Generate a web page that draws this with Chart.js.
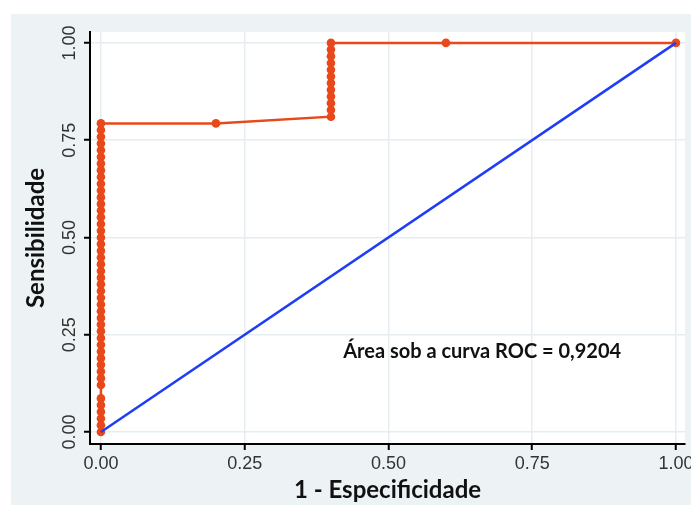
<!DOCTYPE html>
<html>
<head>
<meta charset="utf-8">
<script src="https://cdn.jsdelivr.net/npm/chart.js@4"></script>
<style>
  html, body { margin: 0; padding: 0; background: #ffffff; }
  #frame {
    position: absolute; left: 11px; top: 14px;
    width: 680px; height: 491px; background: #edf2f4; overflow: hidden;
  }
</style>
</head>
<body>
<div id="frame"><canvas id="roc" width="680" height="491"></canvas></div>
<script>
// 1 - especificidade (x) e sensibilidade (y) da curva ROC
const specX = [
  0, 0, 0, 0, 0, 0, 0, 0, 0, 0, 0, 0, 0, 0, 0, 0, 0, 0, 0, 0, 0, 0, 0,
  0, 0, 0, 0, 0, 0, 0, 0, 0, 0, 0, 0, 0, 0, 0, 0, 0, 0, 0, 0, 0, 0, 0,
  0.2,
  0.4, 0.4, 0.4, 0.4, 0.4, 0.4, 0.4, 0.4, 0.4, 0.4, 0.4, 0.4,
  0.6, 1.0
];
const sensY = [
  0, 0.0172, 0.0345, 0.0517, 0.0690, 0.0862, 0.1207, 0.1379, 0.1552, 0.1724,
  0.1897, 0.2069, 0.2241, 0.2414, 0.2586, 0.2759, 0.2931, 0.3103, 0.3276, 0.3448,
  0.3621, 0.3793, 0.3966, 0.4138, 0.4310, 0.4483, 0.4655, 0.4828, 0.5000, 0.5172,
  0.5345, 0.5517, 0.5690, 0.5862, 0.6034, 0.6207, 0.6379, 0.6552, 0.6724, 0.6897,
  0.7069, 0.7241, 0.7414, 0.7586, 0.7759, 0.7931,
  0.7931,
  0.8103, 0.8276, 0.8448, 0.8621, 0.8793, 0.8966, 0.9138, 0.9310, 0.9483, 0.9655, 0.9828, 1.0,
  1.0, 1.0
];
// linha de referência
const refX = [0, 1];
const refY = [0, 1];
const tickValues = [0, 0.25, 0.5, 0.75, 1];
const xTitle = "1 - Especificidade";
const yTitle = "Sensibilidade";
const aucLabel = "Área sob a curva ROC = 0,9204";

const rocPoints = specX.map((x, i) => ({ x: x, y: sensY[i] }));
const refPoints = refX.map((x, i) => ({ x: x, y: refY[i] }));

const tickFont = { family: "'Liberation Sans', Arial, sans-serif", size: 18 };
const titleFont = { family: "Lato, 'Open Sans', sans-serif", size: 24, weight: "bold" };

// texto da área sob a curva
const aucText = {
  id: "aucText",
  afterDatasetsDraw(chart) {
    const ctx = chart.ctx;
    const x = chart.scales.x.getPixelForValue(0.663);
    const y = chart.scales.y.getPixelForValue(0.206);
    ctx.save();
    ctx.font = "bold 20px Lato, 'Open Sans', sans-serif";
    ctx.fillStyle = "#111111";
    ctx.textAlign = "center";
    ctx.textBaseline = "middle";
    ctx.fillText(aucLabel, x, y);
    ctx.restore();
  }
};

// fundo branco da área do gráfico
const plotBg = {
  id: "plotBg",
  beforeDraw(chart) {
    const a = chart.chartArea;
    chart.ctx.save();
    chart.ctx.fillStyle = "#ffffff";
    chart.ctx.fillRect(a.left, a.top, a.right - a.left, a.bottom - a.top);
    chart.ctx.restore();
  }
};

function fixedTicks(scale) {
  scale.ticks = tickValues.map((v) => ({ value: v }));
}

new Chart(document.getElementById("roc").getContext("2d"), {
  type: "scatter",
  data: {
    datasets: [
      {
        label: "Referência",
        data: refPoints,
        showLine: true,
        borderColor: "#1f3cf6",
        borderWidth: 2.5,
        pointRadius: 0,
      },
      {
        label: "ROC",
        data: rocPoints,
        showLine: true,
        borderColor: "#e8481a",
        backgroundColor: "#e8481a",
        borderWidth: 2.5,
        pointRadius: 4.3,
        pointBorderWidth: 0,
      },
    ],
  },
  options: {
    responsive: false,
    animation: false,
    devicePixelRatio: 1,
    layout: { padding: { top: 18, right: 6, left: 0, bottom: 0 } },
    plugins: {
      legend: { display: false },
      tooltip: { enabled: false },
    },
    scales: {
      x: {
        type: "linear",
        min: -0.019,
        max: 1.0157,
        afterBuildTicks: fixedTicks,
        afterFit(scale) {
          scale.height = 61;
          scale.paddingLeft = 0;
          scale.paddingRight = 0;
        },
        grid: { color: "#e6edf1", lineWidth: 1.5, tickColor: "#000000", tickWidth: 2, tickLength: 6 },
        border: { color: "#000000", width: 2 },
        ticks: {
          font: tickFont,
          color: "#333333",
          padding: 3,
          maxRotation: 0,
          callback: (v) => Number(v).toFixed(2),
        },
        title: { display: true, text: xTitle, font: titleFont, color: "#111111", padding: { top: 0, bottom: 0 } },
      },
      y: {
        type: "linear",
        min: -0.031,
        max: 1.028,
        afterBuildTicks: fixedTicks,
        afterFit(scale) {
          scale.width = 79;
          scale.paddingTop = 0;
          scale.paddingBottom = 0;
        },
        grid: { color: "#e6edf1", lineWidth: 1.5, tickColor: "#000000", tickWidth: 2, tickLength: 6 },
        border: { color: "#000000", width: 2 },
        ticks: {
          font: tickFont,
          color: "#333333",
          padding: -4,
          minRotation: 90,
          maxRotation: 90,
          crossAlign: "center",
          callback: (v) => Number(v).toFixed(2),
        },
        title: { display: true, text: yTitle, font: titleFont, color: "#111111", padding: { top: 11, bottom: 0 } },
      },
    },
  },
  plugins: [plotBg, aucText],
});
</script>
</body>
</html>
